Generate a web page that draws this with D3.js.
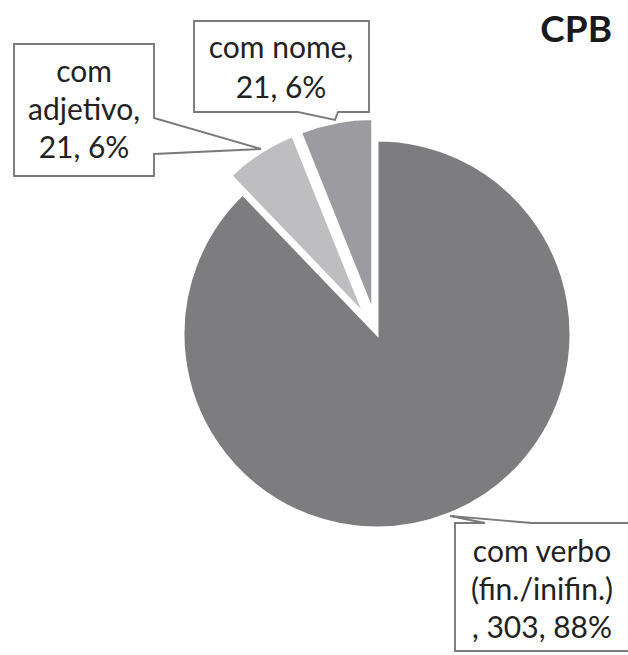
<!DOCTYPE html>
<html>
<head>
<meta charset="utf-8">
<script src="https://cdn.jsdelivr.net/npm/d3@7/dist/d3.min.js"></script>
<style>
  html, body { margin: 0; padding: 0; background: #ffffff; }
  svg { display: block; }
</style>
</head>
<body>
<svg id="chart" width="628" height="655"></svg>
<script>
// ---- data ----
const title = "CPB";
const categories = ["com verbo (fin./inifin.)", "com adjetivo", "com nome"];
const values = [303, 21, 21];
const percentLabels = ["88%", "6%", "6%"];
const labelLines = [
  ["com verbo", "(fin./inifin.)", ", 303, 88%"],
  ["com", "adjetivo,", "21, 6%"],
  ["com nome,", "21, 6%"]
];
const colors = ["#7d7d80", "#bebec0", "#9c9ca0"];
const explode = [0, 22, 22];

// ---- layout ----
const svg = d3.select("#chart");
const cx = 377, cy = 334, R = 194;

const pie = d3.pie().sort(null).value(d => d).startAngle(0).endAngle(2 * Math.PI);
const arcs = pie(values);
const arcGen = d3.arc().innerRadius(0).outerRadius(R);

const g = svg.append("g").attr("transform", `translate(${cx},${cy})`);
g.selectAll("path.slice")
  .data(arcs)
  .join("path")
  .attr("class", "slice")
  .attr("d", arcGen)
  .attr("fill", (d, i) => colors[i])
  .attr("stroke", "#ffffff")
  .attr("stroke-width", 3)
  .attr("stroke-linejoin", "miter")
  .attr("transform", (d, i) => {
    const a = (d.startAngle + d.endAngle) / 2;
    return `translate(${Math.sin(a) * explode[i]},${-Math.cos(a) * explode[i]})`;
  });

// ---- callout boxes ----
const boxes = [
  { rect: [455, 523, 640, 651], ptr: [[485, 523], [450, 516], [532, 523]], side: "top",
    tx: 542, base: [562, 600, 638] },
  { rect: [14, 44, 154, 176], ptr: [[154, 118], [261, 149], [154, 154]], side: "right",
    tx: 84, base: [82, 120, 158] },
  { rect: [194, 21, 369, 112], ptr: [[298, 112], [335, 120], [338, 112]], side: "bottom",
    tx: 281, base: [58, 98] }
];

function calloutPath(b) {
  const [x0, y0, x1, y1] = b.rect;
  const p = d3.path();
  const [a, t, c] = b.ptr;
  if (b.side === "top") {
    p.moveTo(x0, y0); p.lineTo(a[0], a[1]); p.lineTo(t[0], t[1]); p.lineTo(c[0], c[1]);
    p.lineTo(x1, y0); p.lineTo(x1, y1); p.lineTo(x0, y1); p.closePath();
  } else if (b.side === "right") {
    p.moveTo(x0, y0); p.lineTo(x1, y0); p.lineTo(a[0], a[1]); p.lineTo(t[0], t[1]);
    p.lineTo(c[0], c[1]); p.lineTo(x1, y1); p.lineTo(x0, y1); p.closePath();
  } else {
    p.moveTo(x0, y0); p.lineTo(x1, y0); p.lineTo(x1, y1); p.lineTo(c[0], c[1]);
    p.lineTo(t[0], t[1]); p.lineTo(a[0], a[1]); p.lineTo(x0, y1); p.closePath();
  }
  return p.toString();
}

const labels = svg.append("g");
boxes.forEach((b, i) => {
  labels.append("path")
    .attr("d", calloutPath(b))
    .attr("fill", "#ffffff")
    .attr("stroke", "#7a7a7a")
    .attr("stroke-width", 1.9)
    .attr("stroke-linejoin", "miter");
  const t = labels.append("text")
    .attr("text-anchor", "middle")
    .attr("font-family", "Lato, 'Open Sans', sans-serif")
    .attr("font-size", 30)
    .attr("fill", "#222222");
  labelLines[i].forEach((line, k) => {
    t.append("tspan").attr("x", b.tx).attr("y", b.base[k]).text(line);
  });
});

// ---- title ----
svg.append("text")
  .attr("x", 612)
  .attr("y", 42)
  .attr("text-anchor", "end")
  .attr("font-family", "Lato, 'Open Sans', sans-serif")
  .attr("font-weight", "bold")
  .attr("font-size", 37)
  .attr("fill", "#1a1a1a")
  .text(title);
</script>
</body>
</html>
